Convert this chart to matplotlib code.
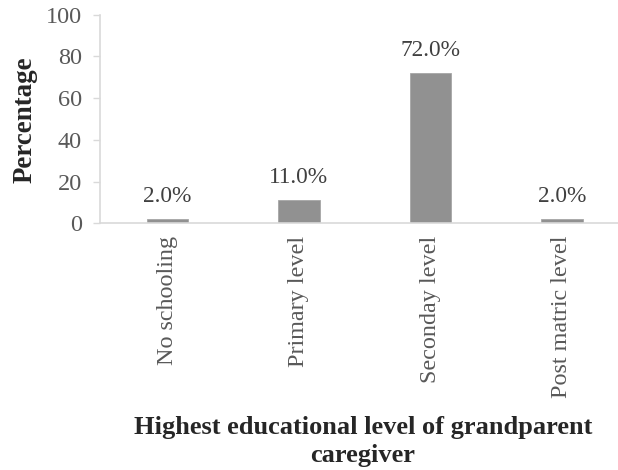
import matplotlib.pyplot as plt

plt.rcParams['font.family'] = ['Liberation Serif', 'DejaVu Serif']

categories = ["No schooling", "Primary level", "Seconday level", "Post matric level"]
values = [2.0, 11.0, 72.0, 2.0]
yticks = [0, 20, 40, 60, 80, 100]

W, H = 618, 470
fig = plt.figure(figsize=(W / 100, H / 100), dpi=100)
ax = fig.add_axes([100 / W, (H - 223.3) / H, 518 / W, (223.3 - 14.7) / H])

x = range(len(categories))
ax.bar(x, values, width=0.316, color='#919191', edgecolor='#a6a6a6', linewidth=0.6, zorder=2)

for xi, v in zip(x, values):
    ax.annotate(f"{v:.1f}%", (xi, v), xytext=(0, 9), textcoords='offset points',
                ha='center', va='bottom', fontsize=16.8, color='#404040')

ax.set_xlim(-0.513, -0.513 + 518 / 131.5)
ax.set_ylim(0, 100)
ax.set_yticks(yticks)
ax.set_xticks(list(x))
ax.set_xticklabels(categories, rotation=90, fontsize=17.4, color='#595959')
ax.tick_params(axis='x', length=0, pad=9)
ax.tick_params(axis='y', labelsize=17.5, labelcolor='#595959', color='#d9d9d9',
               length=5, width=1, pad=8)

for s in ['top', 'right']:
    ax.spines[s].set_visible(False)
for s in ['left', 'bottom']:
    ax.spines[s].set_color('#d9d9d9')
    ax.spines[s].set_linewidth(1.2)

fig.text(25 / W, 1 - 120 / H, "Percentage", rotation=90, ha='center', va='center',
         fontsize=19.4, fontweight='bold', color='#262626')
fig.text(363 / W, 1 - 462 / H, "Highest educational level of grandparent\ncaregiver",
         ha='center', va='baseline', fontsize=19, fontweight='bold', color='#262626',
         linespacing=1.3)

fig.savefig("out.png", dpi=100)
